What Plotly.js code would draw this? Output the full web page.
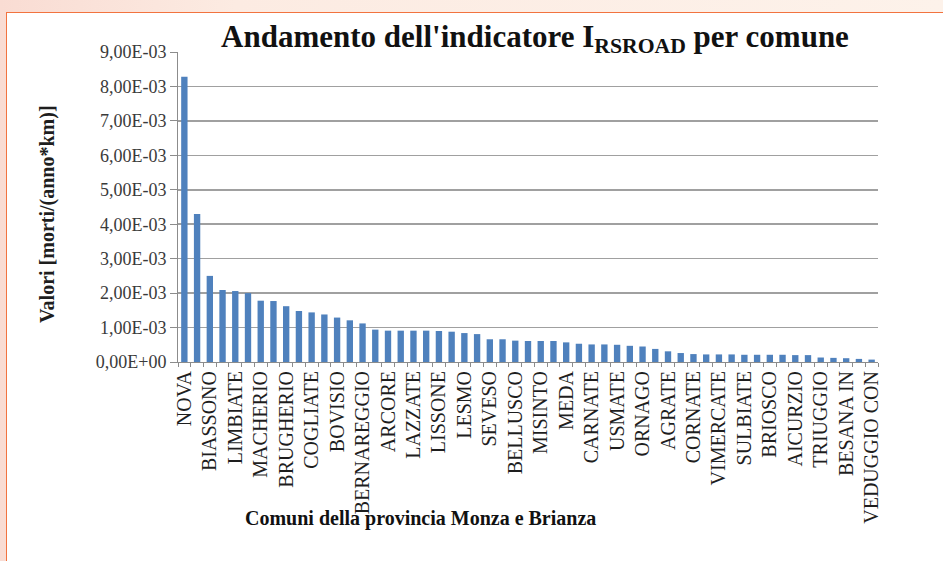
<!DOCTYPE html>
<html>
<head>
<meta charset="utf-8">
<script src="https://cdn.plot.ly/plotly-3.0.1.min.js"></script>
<style>
  html, body { margin:0; padding:0; width:943px; height:561px; overflow:hidden; }
  body { background: linear-gradient(90deg, #f9dcd3 0%, #fcebe2 25%, #fdf2ea 100%); position:relative; }
  #frame { position:absolute; left:6px; top:12px; width:945px; height:560px; background:#ffffff;
           border-left:1.5px solid #f2733f; border-top:1.5px solid #f2733f; }
  #chart { position:absolute; left:0; top:0; width:943px; height:561px; }
</style>
</head>
<body>
<div id="frame"></div>
<div id="chart"></div>
<script>
// Values in 1e-3 units (morti/(anno*km)), sorted descending, 55 comuni
const values = [8.28, 4.30, 2.50, 2.09, 2.06, 2.00, 1.78, 1.77, 1.62, 1.48,
                1.44, 1.38, 1.29, 1.21, 1.12, 0.94, 0.91, 0.91, 0.91, 0.91,
                0.90, 0.88, 0.84, 0.81, 0.66, 0.66, 0.62, 0.61, 0.61, 0.61,
                0.57, 0.53, 0.51, 0.51, 0.50, 0.47, 0.45, 0.38, 0.31, 0.26,
                0.23, 0.22, 0.22, 0.22, 0.21, 0.21, 0.21, 0.21, 0.20, 0.20,
                0.13, 0.12, 0.11, 0.09, 0.07];
// Visible tick labels (every other comune is labelled in the original)
const labels = ["NOVA", "BIASSONO", "LIMBIATE", "MACHERIO", "BRUGHERIO", "COGLIATE",
                "BOVISIO", "BERNAREGGIO", "ARCORE", "LAZZATE", "LISSONE", "LESMO",
                "SEVESO", "BELLUSCO", "MISINTO", "MEDA", "CARNATE", "USMATE",
                "ORNAGO", "AGRATE", "CORNATE", "VIMERCATE", "SULBIATE", "BRIOSCO",
                "AICURZIO", "TRIUGGIO", "BESANA IN", "VEDUGGIO CON"];
const yTickVals = [0, 1, 2, 3, 4, 5, 6, 7, 8, 9];
const yTickText = ["0,00E+00", "1,00E-03", "2,00E-03", "3,00E-03", "4,00E-03",
                   "5,00E-03", "6,00E-03", "7,00E-03", "8,00E-03", "9,00E-03"];

const xs = values.map((v, i) => i);
const labelPos = labels.map((l, i) => i * 2);

const serif = "Liberation Serif, Times New Roman, serif";

const trace = {
  type: "bar",
  x: xs,
  y: values,
  marker: { color: "#4f81bd", line: { width: 0 } },
  hoverinfo: "none"
};

const layout = {
  width: 943, height: 561,
  paper_bgcolor: "rgba(0,0,0,0)",
  plot_bgcolor: "rgba(0,0,0,0)",
  margin: { l: 178, r: 65, t: 52, b: 199 },
  bargap: 0.5,
  showlegend: false,
  title: {
    text: "<b>Andamento dell'indicatore I<sub>RSROAD</sub> per comune</b>",
    font: { family: serif, size: 31, color: "#111111" },
    x: (535 - 178) / 700, xanchor: "center", xref: "paper",
    y: 0.936, yanchor: "middle"
  },
  xaxis: {
    range: [-0.5, 54.5],
    tickmode: "array",
    tickvals: labelPos,
    ticktext: labels,
    tickangle: -90,
    ticks: "",
    tickfont: { family: serif, size: 20, color: "#1e1e1e" },
    showgrid: false,
    zeroline: false,
    showline: true, linecolor: "#8c8c8c", linewidth: 1,
    minor: { tickmode: "linear", tick0: 0.5, dtick: 1, ticks: "outside", ticklen: 4, tickcolor: "#8c8c8c", showgrid: false },
    fixedrange: true
  },
  yaxis: {
    range: [0, 9],
    tickmode: "array",
    tickvals: yTickVals,
    ticktext: yTickText,
    ticks: "outside", ticklen: 7, tickcolor: "#8c8c8c",
    tickfont: { family: serif, size: 18, color: "#3a3a3a" },
    showgrid: true, gridcolor: "#a0a0a0", gridwidth: 1.5,
    zeroline: false,
    showline: true, linecolor: "#8c8c8c", linewidth: 1,
    fixedrange: true
  },
  annotations: [{
    text: "<b>Comuni della provincia Monza e Brianza</b>",
    xref: "paper", yref: "paper",
    x: (420 - 178) / 700, y: -(518 - 362) / 310,
    xanchor: "center", yanchor: "middle",
    showarrow: false,
    font: { family: serif, size: 20, color: "#111111" }
  }, {
    text: "<b>Valori [morti/(anno*km)]</b>",
    xref: "paper", yref: "paper",
    x: (47 - 178) / 700, y: (362 - 214) / 310,
    xanchor: "center", yanchor: "middle",
    textangle: -90,
    showarrow: false,
    font: { family: serif, size: 20, color: "#1e1e1e" }
  }]
};

Plotly.newPlot("chart", [trace], layout, { displayModeBar: false, staticPlot: true });
</script>
</body>
</html>
